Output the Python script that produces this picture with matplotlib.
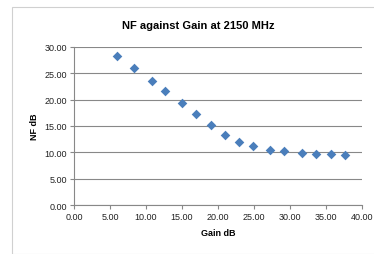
import matplotlib
matplotlib.use("Agg")
import matplotlib.pyplot as plt
from matplotlib.patches import Rectangle

gain = [6.02, 8.29, 10.83, 12.59, 14.95, 16.99, 19.07, 20.97, 22.92, 24.91,
        27.22, 29.17, 31.67, 33.66, 35.69, 37.69]
nf = [28.30, 25.97, 23.45, 21.62, 19.35, 17.27, 15.19, 13.30, 12.04, 11.28,
      10.53, 10.21, 9.89, 9.77, 9.64, 9.52]

plt.rcParams['font.family'] = ['Liberation Sans', 'DejaVu Sans']

fig = plt.figure(figsize=(3.74, 2.55), dpi=100)
fig.patches.append(Rectangle((12 / 374, 0.0), 1.0, 1 - 8 / 255, transform=fig.transFigure,
                             fill=False, edgecolor='#d0d0d0', linewidth=0.8))
ax = fig.add_axes([74 / 374, 1 - 206.3 / 255, 288 / 374, 158.6 / 255])

ax.scatter(gain, nf, marker='D', s=24, color='#4a7ebb', zorder=3, linewidths=0)

ax.set_xlim(0, 40)
ax.set_ylim(0, 30)
ax.set_xticks(range(0, 41, 5))
ax.set_yticks(range(0, 31, 5))
ax.set_xticklabels([f"{v:.2f}" for v in range(0, 41, 5)])
ax.set_yticklabels([f"{v:.2f}" for v in range(0, 31, 5)])
ax.tick_params(labelsize=6.5, length=3, color='#888888', pad=2, labelcolor='#222222')
ax.yaxis.grid(True, color='#888888', linewidth=0.8)
ax.set_axisbelow(True)
for side in ['top', 'right']:
    ax.spines[side].set_visible(False)
for side in ['left', 'bottom']:
    ax.spines[side].set_color('#888888')

ax.set_xlabel('Gain dB', fontsize=6.5, fontweight='bold', labelpad=5)
ax.set_ylabel('NF dB', fontsize=6.5, fontweight='bold', labelpad=4)
fig.text(0.5 + 0.03, 1 - 26 / 255, 'NF against Gain at 2150 MHz', ha='center', va='center',
         fontsize=8, fontweight='bold')

fig.savefig('out.png', dpi=100)
